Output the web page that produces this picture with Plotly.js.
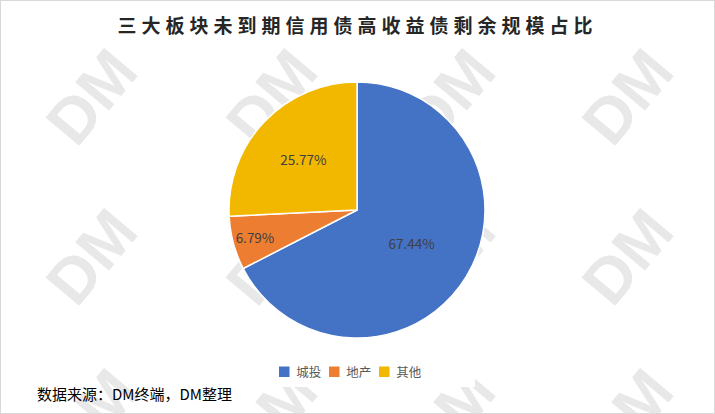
<!DOCTYPE html>
<html>
<head>
<meta charset="utf-8">
<script src="https://cdn.plot.ly/plotly-3.0.1.min.js"></script>
<style>
html,body{margin:0;padding:0;background:#fff;}
#wrap{position:relative;width:715px;height:414px;}
#chart{width:715px;height:414px;}
#frame{position:absolute;left:0;top:0;width:713px;height:412px;border:1px solid #d9d9d9;pointer-events:none;}
.gtitle{letter-spacing:5px;}
</style>
</head>
<body>
<div id="wrap"><div id="chart"></div><div id="frame"></div></div>
<script>
// Data
const categories = ['城投', '地产', '其他'];
const shares = [67.44, 6.79, 25.77];
const colors = ['#4472C4', '#ED7D31', '#F2B800'];
const titleText = '三大板块未到期信用债高收益债剩余规模占比';
const sourceText = '数据来源：DM终端，DM整理';
const watermarkText = 'DM';

// watermark grid (decoration)
const wmX = [87, 267, 445, 623];
const wmY = [93, 253, 413];
const W = 715, H = 414;
const shapes = [];
wmY.forEach(function (py) {
  wmX.forEach(function (px) {
    shapes.push({
      type: 'rect', xref: 'paper', yref: 'paper', layer: 'below',
      x0: (px - 60) / W, x1: (px + 60) / W,
      y0: (H - py - 60) / H, y1: (H - py + 60) / H,
      line: {width: 0}, fillcolor: 'rgba(0,0,0,0)',
      label: {
        text: watermarkText, textangle: -50, textposition: 'middle center',
        font: {family: 'Liberation Sans, Arial, sans-serif', size: 64, weight: 'bold', color: '#e8e8e8'}
      }
    });
  });
});

const cx = 357, cy = 210, r = 128;
const trace = {
  type: 'pie',
  labels: categories,
  values: shares,
  sort: false,
  direction: 'clockwise',
  rotation: 0,
  marker: {colors: colors, line: {color: '#ffffff', width: 1.5}},
  texttemplate: '%{value:.2f}%',
  textposition: 'inside',
  insidetextorientation: 'horizontal',
  textfont: {family: 'Noto Sans CJK SC, sans-serif', size: 13.5, color: '#404040'},
  hoverinfo: 'label+value',
  automargin: false,
  domain: {
    x: [(cx - r) / W, (cx + r) / W],
    y: [(H - cy - r) / H, (H - cy + r) / H]
  }
};

const layout = {
  width: W, height: H,
  margin: {l: 0, r: 0, t: 0, b: 0},
  paper_bgcolor: '#ffffff',
  title: {
    text: titleText,
    x: 0.5, xanchor: 'center', y: 1 - 26 / H, yanchor: 'middle',
    font: {family: 'Noto Sans CJK SC, sans-serif', size: 19, weight: 'bold', color: '#262626'}
  },
  showlegend: true,
  legend: {
    orientation: 'h', x: 0.5, xanchor: 'center', y: (H - 372) / H, yanchor: 'middle',
    font: {family: 'Noto Sans CJK SC, sans-serif', size: 12.5, color: '#595959'},
    itemwidth: 30, traceorder: 'normal'
  },
  shapes: shapes,
  annotations: [{
    text: sourceText, xref: 'paper', yref: 'paper',
    x: 35 / W, xanchor: 'left', y: (H - 393) / H, yanchor: 'middle',
    showarrow: false,
    font: {family: 'Noto Sans CJK SC, sans-serif', size: 15, color: '#000000'}
  }]
};

const gd = document.getElementById('chart');
Plotly.newPlot(gd, [trace], layout, {displayModeBar: false, staticPlot: true}).then(function () {
  // tighten legend entries to match the compact reference legend
  try {
    const items = gd.querySelectorAll('.legend .traces');
    const step = 50;
    const x0m = /translate\(\s*([-\d.]+)/.exec(items[0].getAttribute('transform') || '');
    const x0 = x0m ? parseFloat(x0m[1]) : 0;
    items.forEach(function (g, i) {
      const m = /translate\(\s*([-\d.]+)[ ,]+([-\d.]+)/.exec(g.getAttribute('transform') || '');
      const y = m ? parseFloat(m[2]) : 0;
      g.setAttribute('transform', 'translate(' + (x0 + i * step) + ',' + y + ')');
      const txt = g.querySelector('text.legendtext');
      if (txt) txt.setAttribute('x', 32);
    });
    const first = items[0].querySelector('.legendpoints path, .legendsymbols path');
    const last = items[items.length - 1].querySelector('text.legendtext');
    const a = first.getBoundingClientRect();
    const b = last.getBoundingClientRect();
    const mid = (a.left + b.right) / 2;
    const leg = gd.querySelector('.legend');
    const lm = /translate\(\s*([-\d.]+)[ ,]+([-\d.]+)/.exec(leg.getAttribute('transform') || '');
    if (lm) {
      leg.setAttribute('transform', 'translate(' + (parseFloat(lm[1]) + (350 - mid)) + ',' + lm[2] + ')');
    }
  } catch (e) {}
});
</script>
</body>
</html>
